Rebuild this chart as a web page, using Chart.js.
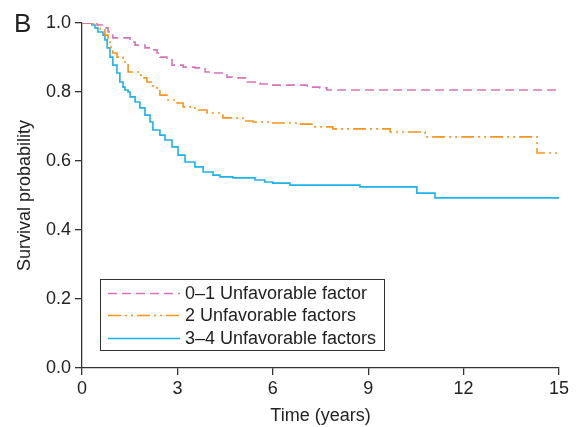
<!DOCTYPE html>
<html>
<head>
<meta charset="utf-8">
<script src="https://cdn.jsdelivr.net/npm/chart.js@4"></script>
<style>
  html, body { margin: 0; padding: 0; background: #fff; }
  #wrap { width: 580px; height: 427px; }
</style>
</head>
<body>
<div id="wrap"><canvas id="km"></canvas></div>
<script>
// survival curves (time in years, survival probability)
const labels = ['0\u20131 Unfavorable factor', '2 Unfavorable factors', '3\u20134 Unfavorable factors'];

const pinkTimes = [0, 0.47, 0.66, 0.82, 0.97, 1.51, 1.67, 1.98, 2.20, 2.36, 2.45, 2.67, 2.83, 3.18, 3.55, 3.87, 4.12, 4.56, 4.87, 5.19, 5.44, 5.60, 6.00, 7.08, 7.48, 7.70, 15];
const pinkSurv  = [1, 0.994, 0.986, 0.974, 0.957, 0.945, 0.936, 0.928, 0.922, 0.913, 0.901, 0.893, 0.878, 0.872, 0.870, 0.858, 0.855, 0.843, 0.841, 0.829, 0.826, 0.823, 0.820, 0.814, 0.812, 0.806, 0.806];

const orangeTimes = [0, 0.35, 0.57, 0.72, 0.82, 0.88, 0.97, 1.10, 1.29, 1.45, 1.82, 1.92, 2.04, 2.23, 2.45, 2.67, 2.99, 3.18, 3.55, 3.93, 4.43, 5.06, 5.38, 5.91, 6.76, 7.23, 7.89, 9.69, 10.79, 14.31, 15];
const orangeSurv  = [1, 0.994, 0.980, 0.965, 0.945, 0.930, 0.913, 0.901, 0.887, 0.858, 0.849, 0.841, 0.829, 0.812, 0.791, 0.777, 0.768, 0.757, 0.748, 0.739, 0.725, 0.716, 0.713, 0.710, 0.707, 0.699, 0.693, 0.684, 0.670, 0.623, 0.623];

const blueTimes = [0, 0.31, 0.41, 0.50, 0.66, 0.72, 0.79, 0.88, 0.97, 1.10, 1.19, 1.29, 1.35, 1.45, 1.51, 1.67, 1.82, 1.98, 2.14, 2.23, 2.45, 2.61, 2.83, 3.02, 3.24, 3.55, 3.81, 4.12, 4.34, 4.75, 5.44, 5.75, 6.00, 6.54, 8.74, 10.53, 11.10, 15];
const blueSurv  = [1, 0.994, 0.986, 0.974, 0.965, 0.951, 0.928, 0.901, 0.878, 0.855, 0.829, 0.814, 0.806, 0.800, 0.786, 0.771, 0.754, 0.733, 0.713, 0.690, 0.675, 0.661, 0.641, 0.617, 0.597, 0.583, 0.568, 0.559, 0.554, 0.551, 0.545, 0.539, 0.536, 0.530, 0.525, 0.507, 0.493, 0.493];

const xTicks = [0, 3, 6, 9, 12, 15];
const yTicks = [0, 0.2, 0.4, 0.6, 0.8, 1.0];

const FONT = "'Liberation Sans', Arial, Helvetica, sans-serif";
const AXIS = '#333';

function pts(ts, ss) {
  return ts.map((t, i) => ({ x: t, y: ss[i] }));
}

const styles = [
  { color: '#DA72B8', dash: [9, 5] },
  { color: '#F7941D', dash: [13, 4, 2, 4, 2, 4] },
  { color: '#1CB2EA', dash: [] }
];
const series = [pts(pinkTimes, pinkSurv), pts(orangeTimes, orangeSurv), pts(blueTimes, blueSurv)];

// legend box + panel letter
const extras = {
  id: 'extras',
  afterDraw(chart) {
    const ctx = chart.ctx;
    ctx.save();
    ctx.fillStyle = '#222';
    ctx.font = '26px ' + FONT;
    ctx.textBaseline = 'alphabetic';
    ctx.fillText('B', 14, 32);

    ctx.strokeStyle = '#333';
    ctx.lineWidth = 1;
    ctx.strokeRect(100.5, 279.5, 284, 71);
    const rows = [293, 315, 338];
    ctx.font = '18px ' + FONT;
    ctx.textBaseline = 'middle';
    rows.forEach((y, i) => {
      ctx.strokeStyle = styles[i].color;
      ctx.lineWidth = 1.5;
      ctx.setLineDash(styles[i].dash);
      ctx.beginPath();
      ctx.moveTo(108, y + 0.5);
      ctx.lineTo(180, y + 0.5);
      ctx.stroke();
      ctx.setLineDash([]);
      ctx.fillStyle = '#222';
      ctx.fillText(labels[i], 185, y + 1);
    });
    ctx.restore();
  }
};

new Chart(document.getElementById('km'), {
  type: 'line',
  data: {
    datasets: series.map((d, i) => ({
      label: labels[i],
      data: d,
      borderColor: styles[i].color,
      borderDash: styles[i].dash,
      borderWidth: 1.6,
      pointRadius: 0,
      stepped: 'before',
      fill: false
    }))
  },
  options: {
    responsive: true,
    maintainAspectRatio: false,
    animation: false,
    layout: { padding: { top: 23, right: 21, bottom: 0, left: 0 } },
    plugins: { legend: { display: false }, tooltip: { enabled: false } },
    scales: {
      x: {
        type: 'linear',
        min: 0,
        max: 15,
        afterBuildTicks: s => { s.ticks = xTicks.map(v => ({ value: v })); },
        afterFit: s => { s.height = 59; },
        grid: { drawOnChartArea: false, drawTicks: true, tickLength: 7, color: AXIS, lineWidth: 1.3 },
        border: { display: true, color: AXIS, width: 1.3 },
        ticks: { color: '#222', font: { family: FONT, size: 18 }, padding: 3, maxRotation: 0 },
        title: { display: true, text: 'Time (years)', color: '#222', font: { family: FONT, size: 18 }, padding: { top: 0, bottom: 0 } }
      },
      y: {
        min: 0,
        max: 1,
        afterBuildTicks: s => { s.ticks = yTicks.map(v => ({ value: v })); },
        afterFit: s => { s.width = 82; },
        grid: { drawOnChartArea: false, drawTicks: true, tickLength: 7, color: AXIS, lineWidth: 1.3 },
        border: { display: true, color: AXIS, width: 1.3 },
        ticks: { color: '#222', font: { family: FONT, size: 18 }, padding: 4, callback: v => v.toFixed(1) },
        title: { display: true, text: 'Survival probability', color: '#222', font: { family: FONT, size: 18 }, padding: { top: 14, bottom: 0 } }
      }
    }
  },
  plugins: [extras]
});
</script>
</body>
</html>
